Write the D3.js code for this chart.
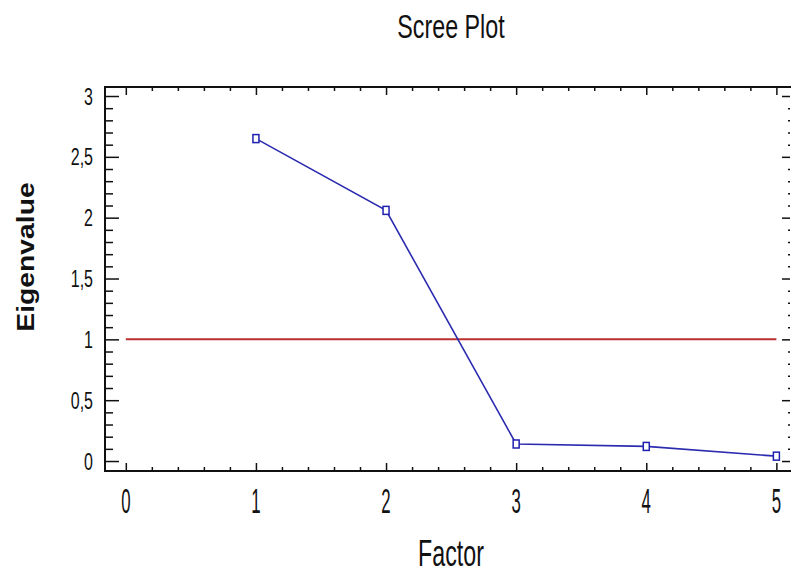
<!DOCTYPE html>
<html>
<head>
<meta charset="utf-8">
<script src="https://cdn.jsdelivr.net/npm/d3@7"></script>
<style>
  body { margin: 0; background: #fff; }
  text { font-family: "Liberation Sans", Arial, sans-serif; fill: #111; }
</style>
</head>
<body>
<div class="chart"></div>
<script>
// data
const factors = [1, 2, 3, 4, 5];
const eigenvalues = [2.65, 2.06, 0.14, 0.12, 0.04];
const threshold = 1;
const xTicks = [0, 1, 2, 3, 4, 5];
const yTicks = [0, 0.5, 1, 1.5, 2, 2.5, 3];
const yTickLabels = ["0", "0,5", "1", "1,5", "2", "2,5", "3"];

const w = 791;
const h = 574;

const svg = d3.select(".chart").append("svg")
    .attr("width", w)
    .attr("height", h);

// plot frame edges
const frameL = 105, frameR = 792, frameT = 87, frameB = 471;

const x = d3.scaleLinear().domain([-0.16, 5.12]).range([frameL, frameR]);
const y = d3.scaleLinear().domain([-0.082, 3.074]).range([frameB, frameT]);

const xMinor = d3.range(0, 5.01, 0.2).filter(v => Math.abs(v - Math.round(v)) > 1e-6);
const yMinor = d3.range(0, 3.01, 0.1).filter(v => Math.abs(v * 2 - Math.round(v * 2)) > 1e-6);

// ticks, all pointing inward
function tickGroup(axis, tx, ty) {
    const g = svg.append("g").attr("transform", `translate(${tx},${ty})`).call(axis);
    g.select(".domain").remove();
    g.selectAll("line").attr("stroke", "#111").attr("stroke-width", 1.5);
    return g;
}
tickGroup(d3.axisRight(y).tickValues(yTicks).tickSize(14).tickFormat(""), frameL, 0);
tickGroup(d3.axisRight(y).tickValues(yMinor).tickSize(8).tickFormat(""), frameL, 0);
tickGroup(d3.axisLeft(y).tickValues(yTicks).tickSize(8).tickFormat(""), 790, 0);
tickGroup(d3.axisLeft(y).tickValues(yMinor).tickSize(2).tickFormat(""), 790, 0);
tickGroup(d3.axisTop(x).tickValues(xTicks).tickSize(8).tickFormat(""), 0, frameB);
tickGroup(d3.axisTop(x).tickValues(xMinor).tickSize(4).tickFormat(""), 0, frameB);
tickGroup(d3.axisBottom(x).tickValues(xTicks).tickSize(8).tickFormat(""), 0, frameT);
tickGroup(d3.axisBottom(x).tickValues(xMinor).tickSize(4).tickFormat(""), 0, frameT);

// frame
svg.append("path")
    .attr("d", `M${frameR},${frameT}H${frameL}V${frameB}H${frameR}`)
    .attr("fill", "none")
    .attr("stroke", "#111")
    .attr("stroke-width", 2);

// tick labels
svg.append("g").selectAll("text")
    .data(yTicks)
    .enter()
    .append("text")
    .attr("text-anchor", "end")
    .attr("font-size", 16)
    .attr("transform", d => `translate(93,${y(d) + 8.5}) scale(1.0,1.5)`)
    .text((d, i) => yTickLabels[i]);

svg.append("g").selectAll("text")
    .data(xTicks)
    .enter()
    .append("text")
    .attr("text-anchor", "middle")
    .attr("font-size", 16)
    .attr("transform", d => `translate(${x(d)},${513}) scale(1.05,2.15)`)
    .text(d => d);

// threshold line
svg.append("line")
    .attr("x1", x(0)).attr("x2", x(5))
    .attr("y1", y(threshold)).attr("y2", y(threshold))
    .attr("stroke", "#bb3030")
    .attr("stroke-width", 2);

// scree line
const pts = factors.map((f, i) => [f, eigenvalues[i]]);
svg.append("path")
    .datum(pts)
    .attr("fill", "none")
    .attr("stroke", "#2b2bb0")
    .attr("stroke-width", 1.6)
    .attr("d", d3.line().x(d => x(d[0])).y(d => y(d[1])));

svg.append("g").selectAll("rect")
    .data(pts)
    .enter()
    .append("rect")
    .attr("x", d => x(d[0]) - 3)
    .attr("y", d => y(d[1]) - 4)
    .attr("width", 6)
    .attr("height", 8)
    .attr("fill", "#fff")
    .attr("stroke", "#2020b0")
    .attr("stroke-width", 1.5);

// titles
svg.append("text")
    .attr("text-anchor", "middle")
    .attr("font-size", 24)
    .attr("transform", "translate(451,38) scale(0.97,1.4)")
    .text("Scree Plot");

svg.append("text")
    .attr("text-anchor", "middle")
    .attr("font-size", 27)
    .attr("transform", "translate(451,566) scale(0.86,1.4)")
    .text("Factor");

svg.append("text")
    .attr("text-anchor", "middle")
    .attr("font-size", 24)
    .attr("font-weight", "bold")
    .attr("transform", "translate(34,257) rotate(-90) scale(1.18,1)")
    .text("Eigenvalue");
</script>
</body>
</html>
